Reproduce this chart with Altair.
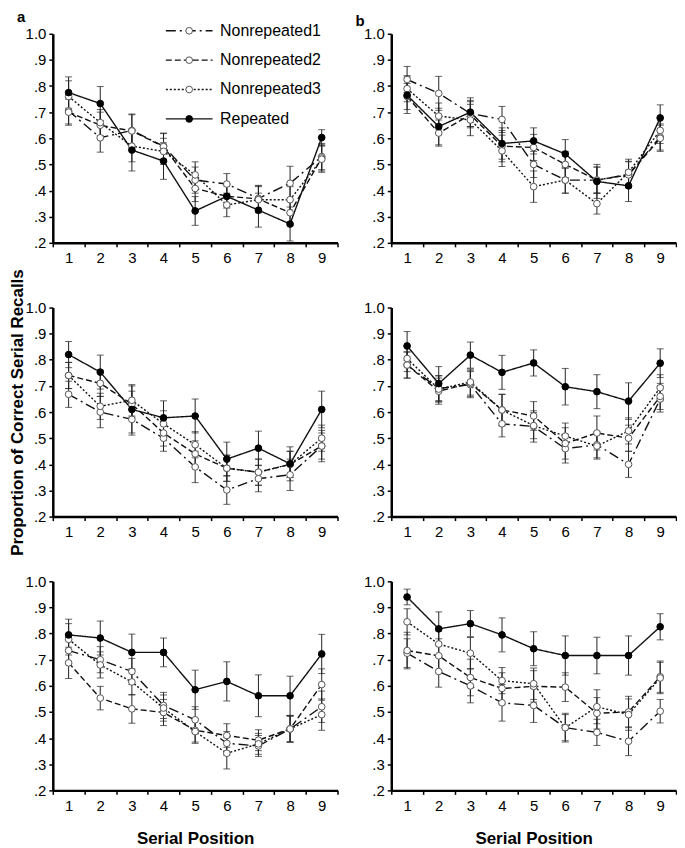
import altair as alt
import pandas as pd

POS = list(range(1, 10))
SERIES = ["Nonrepeated1", "Nonrepeated2", "Nonrepeated3", "Repeated"]
Y_TICKS = [0.2, 0.3, 0.4, 0.5, 0.6, 0.7, 0.8, 0.9, 1.0]
X_TICKS = [0.5, 1, 1.5, 2, 2.5, 3, 3.5, 4, 4.5, 5, 5.5, 6, 6.5, 7, 7.5, 8, 8.5, 9, 9.5]

# ---- panel a (top left) ----
A_N1 = [0.705, 0.602, 0.630, 0.570, 0.440, 0.425, 0.370, 0.428, 0.530]
A_N2 = [0.700, 0.650, 0.628, 0.568, 0.408, 0.378, 0.368, 0.315, 0.525]
A_N3 = [0.760, 0.660, 0.570, 0.550, 0.460, 0.345, 0.365, 0.365, 0.520]
A_REP = [0.775, 0.733, 0.555, 0.513, 0.322, 0.378, 0.325, 0.272, 0.603]
A_N1_ERR = [0.05, 0.055, 0.06, 0.05, 0.05, 0.04, 0.05, 0.065, 0.05]
A_N2_ERR = [0.05, 0.05, 0.065, 0.05, 0.05, 0.04, 0.05, 0.05, 0.05]
A_N3_ERR = [0.06, 0.05, 0.06, 0.05, 0.05, 0.045, 0.05, 0.05, 0.05]
A_REP_ERR = [0.06, 0.065, 0.08, 0.07, 0.055, 0.045, 0.065, 0.065, 0.03]

# ---- panel b (top right) ----
B_N1 = [0.825, 0.772, 0.695, 0.672, 0.500, 0.440, 0.440, 0.462, 0.605]
B_N2 = [0.760, 0.620, 0.690, 0.570, 0.565, 0.500, 0.440, 0.460, 0.600]
B_N3 = [0.790, 0.685, 0.670, 0.552, 0.415, 0.440, 0.350, 0.470, 0.630]
B_REP = [0.765, 0.645, 0.700, 0.580, 0.590, 0.540, 0.435, 0.418, 0.678]
B_N1_ERR = [0.05, 0.065, 0.05, 0.05, 0.05, 0.05, 0.05, 0.05, 0.05]
B_N2_ERR = [0.05, 0.05, 0.05, 0.06, 0.05, 0.05, 0.05, 0.05, 0.05]
B_N3_ERR = [0.05, 0.05, 0.06, 0.06, 0.06, 0.05, 0.04, 0.05, 0.05]
B_REP_ERR = [0.07, 0.07, 0.055, 0.06, 0.05, 0.055, 0.065, 0.06, 0.05]

# ---- panel c (middle left) ----
C_N1 = [0.668, 0.600, 0.572, 0.500, 0.390, 0.302, 0.345, 0.360, 0.470]
C_N2 = [0.740, 0.710, 0.630, 0.520, 0.440, 0.385, 0.370, 0.400, 0.470]
C_N3 = [0.740, 0.622, 0.645, 0.555, 0.475, 0.385, 0.370, 0.400, 0.500]
C_REP = [0.820, 0.753, 0.610, 0.578, 0.585, 0.420, 0.462, 0.402, 0.610]
C_N1_ERR = [0.05, 0.06, 0.06, 0.05, 0.06, 0.055, 0.05, 0.06, 0.06]
C_N2_ERR = [0.05, 0.05, 0.05, 0.05, 0.05, 0.05, 0.05, 0.05, 0.05]
C_N3_ERR = [0.05, 0.05, 0.06, 0.05, 0.05, 0.05, 0.05, 0.05, 0.05]
C_REP_ERR = [0.05, 0.065, 0.09, 0.065, 0.065, 0.065, 0.065, 0.065, 0.07]

# ---- panel d (middle right) ----
D_N1 = [0.780, 0.690, 0.705, 0.555, 0.545, 0.460, 0.475, 0.400, 0.650]
D_N2 = [0.780, 0.680, 0.710, 0.608, 0.585, 0.480, 0.520, 0.500, 0.660]
D_N3 = [0.805, 0.688, 0.715, 0.608, 0.548, 0.508, 0.470, 0.528, 0.693]
D_REP = [0.853, 0.709, 0.818, 0.752, 0.788, 0.697, 0.678, 0.642, 0.787]
D_N1_ERR = [0.05, 0.05, 0.05, 0.05, 0.06, 0.055, 0.05, 0.05, 0.05]
D_N2_ERR = [0.05, 0.05, 0.05, 0.06, 0.055, 0.06, 0.065, 0.05, 0.05]
D_N3_ERR = [0.05, 0.05, 0.05, 0.06, 0.05, 0.05, 0.05, 0.05, 0.05]
D_REP_ERR = [0.055, 0.065, 0.05, 0.065, 0.05, 0.07, 0.065, 0.07, 0.055]

# ---- panel e (bottom left) ----
E_N1 = [0.735, 0.700, 0.655, 0.525, 0.470, 0.380, 0.370, 0.435, 0.520]
E_N2 = [0.688, 0.553, 0.512, 0.498, 0.430, 0.410, 0.392, 0.435, 0.605]
E_N3 = [0.778, 0.680, 0.615, 0.515, 0.425, 0.342, 0.378, 0.435, 0.490]
E_REP = [0.795, 0.783, 0.728, 0.728, 0.585, 0.617, 0.562, 0.562, 0.722]
E_N1_ERR = [0.05, 0.05, 0.05, 0.05, 0.05, 0.045, 0.04, 0.05, 0.06]
E_N2_ERR = [0.06, 0.045, 0.055, 0.05, 0.045, 0.045, 0.04, 0.05, 0.06]
E_N3_ERR = [0.06, 0.05, 0.05, 0.05, 0.045, 0.06, 0.04, 0.05, 0.06]
E_REP_ERR = [0.06, 0.065, 0.07, 0.055, 0.075, 0.075, 0.08, 0.075, 0.075]

# ---- panel f (bottom right) ----
F_N1 = [0.725, 0.655, 0.600, 0.535, 0.525, 0.440, 0.422, 0.388, 0.503]
F_N2 = [0.735, 0.715, 0.632, 0.590, 0.598, 0.595, 0.495, 0.500, 0.635]
F_N3 = [0.845, 0.760, 0.725, 0.620, 0.608, 0.440, 0.520, 0.490, 0.630]
F_REP = [0.940, 0.818, 0.838, 0.795, 0.742, 0.716, 0.716, 0.716, 0.826]
F_N1_ERR = [0.055, 0.06, 0.065, 0.07, 0.065, 0.05, 0.05, 0.055, 0.045]
F_N2_ERR = [0.07, 0.065, 0.07, 0.06, 0.06, 0.055, 0.06, 0.06, 0.06]
F_N3_ERR = [0.05, 0.05, 0.06, 0.05, 0.06, 0.055, 0.065, 0.06, 0.06]
F_REP_ERR = [0.03, 0.065, 0.05, 0.065, 0.065, 0.075, 0.07, 0.075, 0.05]

FONT = "Liberation Sans"
DASHES = [[10, 4, 2, 4], [6, 3], [2, 2], [1, 0]]
LINE_W = [1.4, 1.4, 1.4, 2.8]
FILLS = ["white", "white", "white", "black"]
STROKES = ["#555555", "#555555", "#555555", "black"]
SIZES = [45, 45, 45, 110]
SERIES_PT = [s + " " for s in SERIES]

W, H = 286, 210


def make_df(vals, errs):
    rows = []
    for s, sp, v, e in zip(SERIES, SERIES_PT, vals, errs):
        for p, vv, ee in zip(POS, v, e):
            rows.append(dict(pos=p, val=vv, lo=vv - ee, hi=vv + ee, series=s, series_pt=sp))
    return pd.DataFrame(rows)


def panel(vals, errs, label=None, ytitle=None, xtitle=None, legend=False):
    df = make_df(vals, errs)
    xs = alt.Scale(domain=[0.5, 9.5], nice=False, zero=False)
    ys = alt.Scale(domain=[0.2, 1.0], nice=False, zero=False)
    xaxis = alt.Axis(
        values=X_TICKS,
        labelExpr="datum.value % 1 === 0 ? format(datum.value, 'd') : ''",
        tickOpacity={"condition": {"test": "datum.value % 1 === 0", "value": 0}, "value": 1},
        labelFlush=False, labelOverlap=False, grid=False,
        tickSize=4, labelPadding=4, title=xtitle, titlePadding=17,
    )
    yaxis = alt.Axis(
        values=Y_TICKS,
        labelExpr="datum.value >= 0.99 ? '1.0' : replace(format(datum.value, '.1f'), '0.', '.')",
        labelFlush=False, labelOverlap=False, grid=False,
        tickSize=4, labelPadding=3, title=ytitle, titlePadding=-1,
    )
    base = alt.Chart(df)
    x = alt.X("pos:Q", scale=xs, axis=xaxis)
    y = alt.Y("val:Q", scale=ys, axis=yaxis)
    ylo = alt.Y("lo:Q", scale=ys, axis=yaxis)
    yhi = alt.Y("hi:Q", scale=ys, axis=yaxis)

    if legend:
        # a wide horizontal line symbol: custom path scaled by sqrt(size)/2
        leg_line = alt.Legend(
            title=None, orient="none", legendX=129, legendY=-11,
            symbolType="M-5,0H5", symbolSize=88, symbolStrokeColor="#111111",
            labelFont=FONT, labelFontSize=16, labelColor="black", labelOffset=23,
            rowPadding=13.5, padding=0,
        )
        leg_pt = alt.Legend(
            title=None, orient="none", legendX=129, legendY=-11,
            symbolType="circle", symbolStrokeWidth=1,
            labelFont=FONT, labelFontSize=16, labelExpr="''", labelOffset=23,
            rowPadding=13.5, padding=0,
        )
    else:
        leg_line = None
        leg_pt = None

    lines = base.mark_line(color="#111111").encode(
        x=x, y=y,
        strokeDash=alt.StrokeDash("series:N", scale=alt.Scale(domain=SERIES, range=DASHES), legend=leg_line),
        strokeWidth=alt.StrokeWidth("series:N", scale=alt.Scale(domain=SERIES, range=LINE_W), legend=leg_line),
        detail="series:N",
    )
    bars = base.mark_rule(color="#222222", strokeWidth=1).encode(x=x, y=ylo, y2="hi:Q")
    cap_lo = base.mark_tick(color="#222222", orient="horizontal", size=7, thickness=1).encode(x=x, y=ylo)
    cap_hi = base.mark_tick(color="#222222", orient="horizontal", size=7, thickness=1).encode(x=x, y=yhi)
    pts = base.mark_circle(opacity=1, strokeWidth=1).encode(
        x=x, y=y,
        fill=alt.Fill("series_pt:O", scale=alt.Scale(domain=SERIES_PT, range=FILLS), legend=leg_pt),
        stroke=alt.Stroke("series_pt:O", scale=alt.Scale(domain=SERIES_PT, range=STROKES), legend=leg_pt),
        size=alt.Size("series_pt:O", scale=alt.Scale(domain=SERIES_PT, range=SIZES), legend=leg_pt),
    )
    ch = alt.layer(lines, bars, cap_lo, cap_hi, pts).properties(width=W, height=H)
    if label:
        ch = ch.properties(
            title=alt.TitleParams(label, anchor="start", frame="group", dx=-36, fontSize=15,
                                  fontWeight="bold", font=FONT, offset=-2, color="black")
        )
    return ch


pa = panel([A_N1, A_N2, A_N3, A_REP], [A_N1_ERR, A_N2_ERR, A_N3_ERR, A_REP_ERR], label="a", legend=True)
pb = panel([B_N1, B_N2, B_N3, B_REP], [B_N1_ERR, B_N2_ERR, B_N3_ERR, B_REP_ERR], label="b")
pc = panel([C_N1, C_N2, C_N3, C_REP], [C_N1_ERR, C_N2_ERR, C_N3_ERR, C_REP_ERR],
           ytitle="Proportion of Correct Serial Recalls")
pd_ = panel([D_N1, D_N2, D_N3, D_REP], [D_N1_ERR, D_N2_ERR, D_N3_ERR, D_REP_ERR])
pe = panel([E_N1, E_N2, E_N3, E_REP], [E_N1_ERR, E_N2_ERR, E_N3_ERR, E_REP_ERR], xtitle="Serial Position")
pf = panel([F_N1, F_N2, F_N3, F_REP], [F_N1_ERR, F_N2_ERR, F_N3_ERR, F_REP_ERR], xtitle="Serial Position")

chart = alt.concat(
    pa, pb, pc, pd_, pe, pf, columns=2, spacing={"row": 65, "column": 54}, bounds="flush"
).resolve_scale(
    strokeDash="independent", strokeWidth="independent", fill="independent",
    stroke="independent", size="independent", x="independent", y="independent",
).properties(padding=0).configure_view(stroke=None).configure_axis(
    domainColor="black", domainWidth=2.5, tickColor="black", tickWidth=1.5,
    labelFont=FONT, labelFontSize=15, labelColor="black", labelOverlap=False, labelFlush=False,
    titleFont=FONT, titleFontSize=17, titleFontWeight="bold", titleColor="black",
)

chart.save("out.html", embed_options={"renderer": "svg", "actions": False})
